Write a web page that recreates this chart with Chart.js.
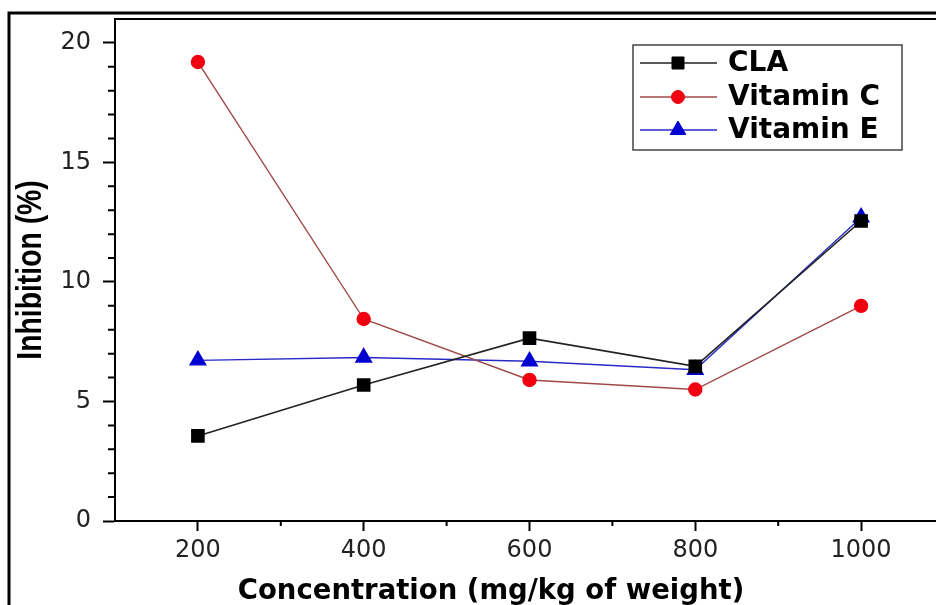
<!DOCTYPE html>
<html>
<head>
<meta charset="utf-8">
<script src="https://cdn.jsdelivr.net/npm/chart.js@4.4.1/dist/chart.umd.min.js"></script>
<style>
  html, body { margin: 0; padding: 0; background: #fff; overflow: hidden; }
  #wrap { position: absolute; left: 0; top: 0; width: 960px; height: 605px; }
</style>
</head>
<body>
<div id="wrap"><canvas id="myChart" width="960" height="605"></canvas></div>
<script>
// data
const concentration = [200, 400, 600, 800, 1000];
const cla = [3.56, 5.69, 7.65, 6.47, 12.55];
const vitaminC = [19.2, 8.45, 5.9, 5.5, 9.0];
const vitaminE = [6.72, 6.84, 6.68, 6.33, 12.7];

const xTicks = [200, 400, 600, 800, 1000];
const xMinor = [300, 500, 700, 900];
const yTicks = [0, 5, 10, 15, 20];
const yMinor = [1, 2, 3, 4, 6, 7, 8, 9, 11, 12, 13, 14, 16, 17, 18, 19];

const xTitle = "Concentration (mg/kg of weight)";
const yTitle = "Inhibition (%)";

function points(ys) {
  return concentration.map((x, i) => ({ x: x, y: ys[i] }));
}

// frame, top line, minor ticks, titles and legend box
const extras = {
  id: "extras",
  afterDraw(chart) {
    const ctx = chart.ctx;
    const area = chart.chartArea;
    const xs = chart.scales.x, ys = chart.scales.y;
    ctx.save();
    // outer picture frame (left + top only, the rest is cut off)
    ctx.strokeStyle = "#000";
    ctx.lineWidth = 3;
    ctx.beginPath();
    ctx.moveTo(9, 605);
    ctx.lineTo(9, 13);
    ctx.lineTo(960, 13);
    ctx.stroke();
    // top of plot box
    ctx.lineWidth = 2;
    ctx.beginPath();
    ctx.moveTo(area.left - 1, area.top);
    ctx.lineTo(area.right, area.top);
    ctx.stroke();
    // minor ticks
    ctx.lineWidth = 2;
    ctx.beginPath();
    xMinor.forEach(v => {
      const px = xs.getPixelForValue(v);
      ctx.moveTo(px, area.bottom);
      ctx.lineTo(px, area.bottom + 5);
    });
    yMinor.forEach(v => {
      const py = ys.getPixelForValue(v);
      ctx.moveTo(area.left, py);
      ctx.lineTo(area.left - 7, py);
    });
    ctx.stroke();
    // axis titles
    ctx.fillStyle = "#000";
    ctx.font = "bold 27.5px 'DejaVu Sans'";
    ctx.textAlign = "center";
    ctx.textBaseline = "alphabetic";
    ctx.fillText(xTitle, 491, 599);
    // y title is a narrow bold face, squeeze Liberation Sans along the text
    ctx.translate(41, 270);
    ctx.rotate(-Math.PI / 2);
    ctx.scale(0.81, 1);
    ctx.font = "bold 35px 'Liberation Sans'";
    ctx.fillText(yTitle, 0, 0);
    ctx.restore();

    // legend
    ctx.save();
    ctx.strokeStyle = "#444";
    ctx.lineWidth = 1.5;
    ctx.strokeRect(633, 45, 269, 105);
    const rows = [63, 97, 130];
    chart.data.datasets.forEach((ds, i) => {
      const y = rows[i];
      ctx.strokeStyle = ds.borderColor;
      ctx.lineWidth = ds.borderWidth;
      ctx.beginPath();
      ctx.moveTo(640, y);
      ctx.lineTo(717, y);
      ctx.stroke();
      ctx.fillStyle = ds.pointBackgroundColor;
      ctx.strokeStyle = ds.pointBackgroundColor;
      ctx.lineWidth = 1;
      Chart.helpers.drawPoint(ctx, { pointStyle: ds.pointStyle, radius: ds.pointRadius, rotation: 0, borderWidth: 1 }, 678, y);
      ctx.fillStyle = "#000";
      ctx.font = "bold 28px 'DejaVu Sans'";
      ctx.textAlign = "left";
      ctx.textBaseline = "middle";
      ctx.fillText(ds.label, 728, y + 1);
    });
    ctx.restore();
  }
};

const ctx = document.getElementById("myChart").getContext("2d");
const myChart = new Chart(ctx, {
  type: "line",
  data: {
    datasets: [
      {
        label: "CLA",
        data: points(cla),
        borderColor: "#222",
        borderWidth: 1.6,
        pointStyle: "rect",
        pointRadius: 8.5,
        pointBackgroundColor: "#000",
        pointBorderColor: "#000",
        fill: false,
      },
      {
        label: "Vitamin C",
        data: points(vitaminC),
        borderColor: "#a04848",
        borderWidth: 1.4,
        pointStyle: "circle",
        pointRadius: 6.5,
        pointBackgroundColor: "#f00010",
        pointBorderColor: "#f00010",
        fill: false,
      },
      {
        label: "Vitamin E",
        data: points(vitaminE),
        borderColor: "#2a2ac8",
        borderWidth: 1.4,
        pointStyle: "triangle",
        pointRadius: 9,
        pointBackgroundColor: "#0000d0",
        pointBorderColor: "#0000d0",
        fill: false,
      },
    ],
  },
  options: {
    responsive: false,
    animation: false,
    layout: { padding: { left: 0, top: 19, right: 16, bottom: 0 } },
    plugins: { legend: { display: false }, tooltip: { enabled: false } },
    scales: {
      x: {
        type: "linear",
        min: 100,
        max: 1100,
        afterFit(scale) { scale.height = 84; scale.paddingLeft = 0; scale.paddingRight = 0; },
        afterBuildTicks(scale) { scale.ticks = xTicks.map(v => ({ value: v })); },
        border: { display: true, color: "#000", width: 2 },
        grid: { drawOnChartArea: false, drawTicks: true, tickLength: 10, tickColor: "#000", tickWidth: 2 },
        ticks: {
          autoSkip: false,
          maxRotation: 0,
          padding: 5,
          color: "#222",
          font: { family: "'DejaVu Sans'", size: 24 },
          callback: v => String(v),
        },
      },
      y: {
        min: 0,
        max: 21,
        afterFit(scale) { scale.width = 115; scale.paddingTop = 0; scale.paddingBottom = 0; },
        afterBuildTicks(scale) { scale.ticks = yTicks.map(v => ({ value: v })); },
        border: { display: true, color: "#000", width: 2 },
        grid: { drawOnChartArea: false, drawTicks: true, tickLength: 12, tickColor: "#000", tickWidth: 2 },
        ticks: {
          autoSkip: false,
          padding: 12,
          color: "#222",
          font: { family: "'DejaVu Sans'", size: 24 },
          callback: v => String(v),
        },
      },
    },
  },
  plugins: [extras],
});
</script>
</body>
</html>
